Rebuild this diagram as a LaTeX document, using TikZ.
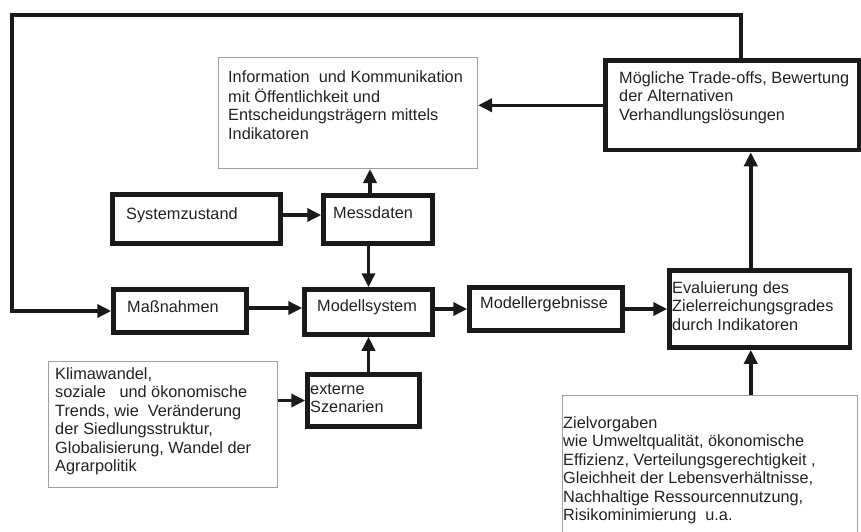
\documentclass[tikz,border=0pt]{standalone}
\usepackage{fontspec}
\setmainfont{Liberation Sans}
\usetikzlibrary{arrows.meta}
\definecolor{ink}{HTML}{1A1A1A}
\definecolor{thin}{HTML}{A0A0A0}
\definecolor{txtc}{HTML}{222222}
\tikzset{
  tbox/.style={draw=ink, line width=4.5pt, rectangle, inner sep=0pt},
  gbox/.style={draw=thin, line width=1pt, rectangle, inner sep=0pt},
  txt/.style={anchor=north west, inner sep=0pt, align=left, text=txtc,
    font=\fontsize{16.3}{18.5}\selectfont},
  conn/.style={draw=ink, line width=3.5pt},
  arr/.style={conn, -{Triangle[length=14pt,width=13pt]}}
}
\begin{document}
\begin{tikzpicture}[x=1pt,y=-1pt]
\useasboundingbox (0,0) rectangle (861,531);
% boxes
\node[tbox, minimum width=253.5, minimum height=89.5] (trade) at (732.25,105.25) {};
\node[gbox, minimum width=259, minimum height=111] (info) at (348,113) {};
\node[tbox, minimum width=168, minimum height=49] (syst) at (196.5,219) {};
\node[tbox, minimum width=109, minimum height=48] (mess) at (378,219.5) {};
\node[tbox, minimum width=133, minimum height=43] (mass) at (180,311) {};
\node[tbox, minimum width=128, minimum height=45] (modell) at (368.5,312) {};
\node[tbox, minimum width=153, minimum height=43] (erg) at (546,309) {};
\node[tbox, minimum width=180.5, minimum height=77] (eval) at (759.75,309) {};
\node[tbox, minimum width=112, minimum height=52] (ext) at (363.5,400.5) {};
\node[gbox, minimum width=229, minimum height=126] (klima) at (163,424.5) {};
\node[gbox, minimum width=295, minimum height=149.5] (ziel) at (710,470.25) {};
% texts
\node[txt] (tinfo) at (228,69) {\strut Information~ und Kommunikation\\mit Öffentlichkeit und\\Entscheidungsträgern mittels\\Indikatoren};
\node[txt] (ttrade) at (619,70) {\strut Mögliche Trade-offs, Bewertung\\der Alternativen\\Verhandlungslösungen};
\node[txt] (tsyst) at (126,206) {\strut Systemzustand};
\node[txt] (tmess) at (333,205) {\strut Messdaten};
\node[txt] (tmass) at (127,299) {\strut Maßnahmen};
\node[txt] (tmodell) at (317,298) {\strut Modellsystem};
\node[txt] (terg) at (480,295) {\strut Modellergebnisse};
\node[txt] (teval) at (672,280) {\strut Evaluierung des\\Zielerreichungsgrades\\durch Indikatoren};
\node[txt] (text) at (310,381) {\strut externe\\Szenarien};
\node[txt] (tklima) at (55,366) {\strut Klimawandel,\\soziale~~ und ökonomische\\Trends, wie~ Veränderung\\der Siedlungsstruktur,\\Globalisierung, Wandel der\\Agrarpolitik};
\node[txt] (tziel) at (563,415) {\strut Zielvorgaben\\wie Umweltqualität, ökonomische\\Effizienz, Verteilungsgerechtigkeit ,\\Gleichheit der Lebensverhältnisse,\\Nachhaltige Ressourcennutzung,\\Risikominimierung~ u.a.};
% feedback loop
\coordinate (fbR) at (741,15);
\coordinate (fbL) at (12,15);
\draw[arr] (trade.north -| fbR) -- (fbR) -- (fbL) -- (fbL |- mass.west) -- (mass.west);
% connectors
\draw[arr] (trade.west) -- (trade.west -| info.east);
\draw[arr] ([yshift=4pt]syst.east) -- ([yshift=4pt]syst.east -| mess.west);
\draw[arr] ([xshift=-8pt]mess.north) -- ([xshift=-8pt]mess.north |- info.south);
\draw[arr] (modell.north |- mess.south) -- (modell.north);
\draw[arr] ([yshift=3pt]mass.east) -- ([yshift=3pt]mass.east -| modell.west);
\draw[arr] (modell.east |- erg.west) -- (erg.west);
\draw[arr] (erg.east) -- (erg.east -| eval.west);
\draw[arr] (modell.south |- ext.north) -- (modell.south);
\draw[arr] (ext.west -| klima.east) -- (ext.west);
\draw[arr] ([xshift=-9pt]eval.north) -- ([xshift=-9pt]eval.north |- trade.south);
\draw[arr] ([xshift=-9pt]eval.south |- ziel.north) -- ([xshift=-9pt]eval.south);
\end{tikzpicture}
\end{document}
